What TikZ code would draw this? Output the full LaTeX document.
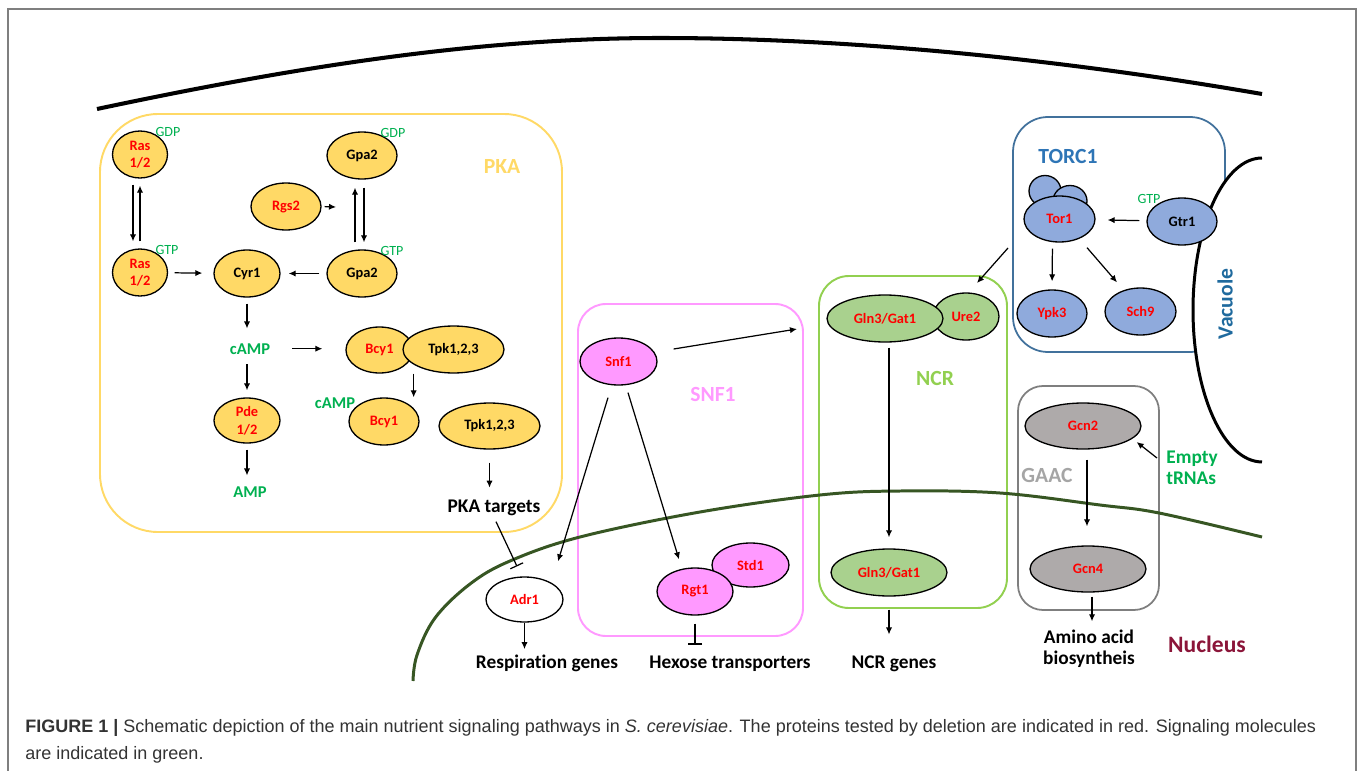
\documentclass[tikz,border=0pt]{standalone}
\usepackage{fontspec}
\setmainfont{Carlito}[Ligatures=NoCommon]
\newfontfamily\capfont{Liberation Sans}
\usetikzlibrary{shapes.geometric,arrows.meta}

\definecolor{pkayellow}{HTML}{FFD966}
\definecolor{snfpink}{HTML}{FF99FF}
\definecolor{ncrgreen}{HTML}{A9D18E}
\definecolor{ncrline}{HTML}{92D050}
\definecolor{torcblue}{HTML}{8FAADC}
\definecolor{torcline}{HTML}{41719C}
\definecolor{torctext}{HTML}{2E75B6}
\definecolor{gaacgray}{HTML}{AEAAAA}
\definecolor{gaacline}{HTML}{7F7F7F}
\definecolor{gaactext}{HTML}{A5A5A5}
\definecolor{molgreen}{HTML}{00B050}
\definecolor{nucgreen}{HTML}{375623}
\definecolor{nucred}{HTML}{8B1539}
\definecolor{vactext}{HTML}{1F6A9E}
\definecolor{capgray}{HTML}{333333}
\definecolor{framegray}{HTML}{7F7F7F}

\begin{document}
\begin{tikzpicture}[x=0.02cm, y=-0.02cm, >={Latex[length=4pt,width=3.6pt]}]
  \tikzstyle{prot}=[ellipse, draw, line width=0.75pt, inner sep=0pt, align=center, text=red, font=\fontsize{8.2}{10}\selectfont\bfseries, minimum width=1.4cm, minimum height=0.94cm]
  \tikzstyle{pka}=[prot, fill=pkayellow]
  \tikzstyle{snf}=[prot, fill=snfpink]
  \tikzstyle{ncr}=[prot, fill=ncrgreen]
  \tikzstyle{torc}=[prot, fill=torcblue]
  \tikzstyle{gaac}=[prot, fill=gaacgray]
  \tikzstyle{mol}=[inner sep=0pt, anchor=base, text=molgreen, font=\fontsize{9.4}{11}\selectfont\bfseries]
  \tikzstyle{gxp}=[inner sep=0pt, anchor=base, text=molgreen, font=\fontsize{8}{10}\selectfont]
  \tikzstyle{target}=[inner sep=0pt, anchor=base, align=center, font=\fontsize{11}{12}\selectfont\bfseries]
  \tikzstyle{boxlabel}=[inner sep=0pt, anchor=base, font=\fontsize{12.3}{14}\selectfont\bfseries]
  \tikzstyle{capt}=[inner sep=0pt, anchor=base west, text=capgray, font=\capfont\fontsize{10.25}{12}\selectfont]
  \tikzstyle{link}=[->, line width=0.7pt]
  \tikzstyle{block}=[-{Bar[width=8pt]}, line width=0.7pt]

  \useasboundingbox (0,0) rectangle (1357,771);
  \draw[framegray, line width=0.7pt] (8,9) rectangle (1356,800);

  \draw[pkayellow, line width=1.1pt, rounded corners=1.16cm] (100,114) rectangle (562,532);
  \draw[snfpink, line width=1.1pt, rounded corners=0.56cm] (578,304) rectangle (803,636);
  \draw[ncrline, line width=1.1pt, rounded corners=0.6cm] (819,276) rectangle (1007,608);
  \draw[torcline, line width=1pt, rounded corners=0.7cm] (1013,117) rectangle (1225,352);
  \draw[gaacline, line width=1pt, rounded corners=0.5cm] (1018,386) rectangle (1159,610);

  \draw[line width=2.3pt] (97,109) .. controls (300,66) and (480,38) .. (660,38)
    .. controls (880,38) and (1100,66) .. (1262,94);
  \draw[nucgreen, line width=1.7pt] plot[smooth, tension=0.6] coordinates {(413,681) (417,655)
    (435,618) (470,584) (510,561) (580,537) (700,512) (820,495) (900,491) (1000,493)
    (1100,505) (1159,513) (1262,537)};
  \fill[white] (1262,158) arc[start angle=90, end angle=270, x radius=1.38cm, y radius=3.04cm] -- cycle;
  \draw[line width=1.7pt] (1262,158) arc[start angle=90, end angle=270, x radius=1.38cm, y radius=3.04cm];

  \node[pka, minimum width=1.1cm] (RasGDP) at (140,154.5) {Ras\\1/2};
  \node[gxp] (RasGDPtag) at (168,136) {GDP};

  \node[pka, minimum width=1.1cm] (RasGTP) at (140,272.5) {Ras\\1/2};
  \node[gxp] (RasGTPtag) at (167,254) {GTP};

  \node[pka, text=black] (GpaGDP) at (362,155.5) {Gpa2};
  \node[gxp] (GpaGDPtag) at (393,137) {GDP};

  \node[pka] (Rgs2) at (286,206.5) {Rgs2};
  \coordinate (GpaCycle) at (336,207);

  \node[pka, text=black] (GpaGTP) at (362,273.5) {Gpa2};
  \node[gxp] (GpaGTPtag) at (392,255) {GTP};

  \node[pka, text=black, minimum width=1.32cm] (Cyr1) at (247,273.5) {Cyr1};

  \node[mol] (cAMP) at (250,354) {cAMP};

  \node[pka, minimum width=1.34cm, minimum height=0.92cm] (BcyC) at (379.5,350) {Bcy1};
  \node[pka, text=black, minimum width=2.02cm] (TpkC) at (453.5,349.5) {Tpk1,2,3};

  \node[pka, minimum width=1.32cm, minimum height=0.9cm] (Pde) at (247,420.5) {Pde\\1/2};
  \node[mol] (AMP) at (250,497) {AMP};

  \node[pka] (Bcy) at (384,421.5) {Bcy1};
  \node[mol] (cAMPfree) at (335,408) {cAMP};
  \node[pka, text=black, minimum width=2.02cm, minimum height=0.92cm] (Tpk) at (489.5,426) {Tpk1,2,3};

  \node[target] (PKAtargets) at (494,512) {PKA targets};
  \node[boxlabel, text=pkayellow] (PKA) at (502,173) {PKA};

  \node[prot, fill=white, minimum width=1.54cm, minimum height=0.9cm] (Adr1) at (524.5,599.5) {Adr1};
  \node[target] (Resp) at (547,668) {Respiration genes};

  \node[snf, minimum width=1.54cm] (Snf1) at (618.5,361.5) {Snf1};
  \node[snf, minimum width=1.54cm, minimum height=0.88cm] (Std1) at (750.5,565) {Std1};
  \node[snf, minimum width=1.52cm] (Rgt1) at (695,591.5) {Rgt1};
  \node[target] (Hexose) at (730,668) {Hexose transporters};
  \node[boxlabel, text=snfpink] (SNF) at (713,401) {SNF1};

  \node[ncr, minimum width=1.32cm] (Ure2) at (966,316.5) {Ure2};
  \node[ncr, minimum width=2.32cm] (GlnTop) at (885,318.5) {Gln3/Gat1};
  \node[ncr, minimum width=2.32cm] (GlnBot) at (889,572.5) {Gln3/Gat1};
  \node[target] (NCRgenes) at (894,668) {NCR genes};
  \node[boxlabel, text=ncrline] (NCR) at (935,385) {NCR};

  \node[torc, minimum width=0.64cm, minimum height=0.62cm] (TorSubA) at (1045,191) {};
  \node[torc, minimum width=0.68cm, minimum height=0.62cm] (TorSubB) at (1070,201) {};
  \node[torc, minimum width=1.42cm, minimum height=0.92cm] (Tor1) at (1059.5,219) {Tor1};
  \node[torc, text=black] (Gtr1) at (1182,221.5) {Gtr1};
  \node[gxp] (Gtr1tag) at (1149,203) {GTP};
  \node[torc] (Ypk3) at (1052,313.5) {Ypk3};
  \node[torc, minimum width=1.42cm] (Sch9) at (1140.5,311.5) {Sch9};
  \node[boxlabel, text=torctext] (TORC) at (1068,163) {TORC1};
  \node[boxlabel, text=vactext, anchor=center, rotate=90] (Vacuole) at (1225,304) {Vacuole};

  \node[gaac, minimum width=2.32cm, minimum height=0.92cm] (Gcn2) at (1083,426) {Gcn2};
  \node[gaac, minimum width=2.32cm, minimum height=0.92cm] (Gcn4) at (1088,569) {Gcn4};
  \node[target, anchor=center, align=left, text=molgreen] (Empty) at (1192,468) {Empty\\tRNAs};
  \node[target, anchor=center] (Amino) at (1089,649) {Amino acid\\biosyntheis};
  \node[boxlabel, text=gaactext] (GAAC) at (1047,482) {GAAC};
  \node[boxlabel, text=nucred, font=\fontsize{13.4}{15}\selectfont\bfseries] (Nucleus) at (1207,652) {Nucleus};

  \coordinate (NcrSide) at (797,329);
  \coordinate (TorcOut) at (1008,248);
  \coordinate (NcrTop) at (977,283);

  \draw[link, shorten <=0.12cm, shorten >=0.14cm] ([shift={(-7,0)}]RasGDP.south) -- ([shift={(-7,0)}]RasGTP.north);
  \draw[link, shorten <=0.14cm, shorten >=0.14cm] (RasGTP.north) -- (RasGDP.south);
  \draw[link, shorten <=0.14cm, shorten >=0.16cm] ([shift={(-7,0)}]GpaGTP.north) -- ([shift={(-7,0)}]GpaGDP.south);
  \draw[link, shorten <=0.16cm, shorten >=0.14cm] ([shift={(2,0)}]GpaGDP.south) -- ([shift={(2,0)}]GpaGTP.north);
  \draw[link, shorten <=0.06cm] (Rgs2.east) -- (GpaCycle);

  \draw[link, shorten <=0.13cm, shorten >=0.22cm] (RasGTP) -- (Cyr1);
  \draw[link, shorten <=0.14cm, shorten >=0.16cm] (GpaGTP) -- (Cyr1);
  \draw[link, shorten <=0.12cm, shorten >=0.29cm] (Cyr1.south) -- (Cyr1.south |- cAMP.north);
  \draw[link, shorten <=0.44cm, shorten >=0.46cm] (cAMP.east) -- (cAMP.east -| BcyC.west);
  \draw[link, shorten <=0.2cm, shorten >=0.14cm] (cAMP.south -| Pde.north) -- (Pde.north);
  \draw[link, shorten <=0.12cm, shorten >=0.21cm] (Pde.south) -- (Pde.south |- AMP.north);
  \draw[link] (BcyC.east |- BcyC.south) -- (BcyC.east |- Bcy.north);
  \draw[link, shorten <=0.26cm, shorten >=0.23cm] (Tpk.south) -- (Tpk.south |- PKAtargets.north);
  \draw[block] ([shift={(2,6)}]PKAtargets.south) -- ([shift={(-7.5,-10)}]Adr1.north);

  \draw[link, shorten >=0.1cm] (Adr1.south) -- (Adr1.south |- Resp.north);
  \draw[link] ([shift={(-10.5,12)}]Snf1.south) -- ([shift={(33.5,-15)}]Adr1.north);
  \draw[link] ([shift={(9.5,7)}]Snf1.south) -- ([shift={(-16,-8)}]Rgt1.north);
  \draw[link] ([shift={(16,-12.5)}]Snf1.east) -- (NcrSide);
  \draw[block, shorten <=0.16cm, shorten >=0.21cm] (Rgt1.south) -- (Rgt1.south |- Hexose.north);

  \draw[link, shorten <=0.1cm, shorten >=0.22cm] (GlnTop.south -| GlnBot.north) -- (GlnBot.north);
  \draw[link, shorten <=0.26cm, shorten >=0.41cm] (GlnBot.south) -- (GlnBot.south |- NCRgenes.north);

  \draw[link, shorten <=0.14cm, shorten >=0.24cm] (Gtr1) -- (Tor1);
  \draw[link, shorten <=0.12cm, shorten >=0.16cm] ([shift={(-7,0)}]Tor1.south) -- (Ypk3.north);
  \draw[link] ([shift={(27.5,5)}]Tor1.south) -- ([shift={(-23.5,-5)}]Sch9.north);
  \draw[link] (TorcOut) -- (NcrTop);

  \draw[link, shorten <=0.2cm, shorten >=0.38cm] ([shift={(4,0)}]Gcn2.south) -- ([shift={(-1,0)}]Gcn4.north);
  \draw[link, shorten <=0.08cm, shorten >=0.17cm] ([shift={(4,0)}]Gcn4.south) -- ([shift={(3,0)}]Amino.north);
  \draw[link] ([shift={(-9,-10)}]Empty.west) -- ([shift={(-5,16)}]Gcn2.east);

  \node[capt] (CaptionTop) at (25,732) {\textbf{FIGURE 1 |} Schematic depiction of the main nutrient signaling pathways in \textit{S. cerevisiae}. The proteins tested by deletion are indicated in red. Signaling molecules};
  \node[capt] (CaptionEnd) at (25,759) {are indicated in green.};
\end{tikzpicture}
\end{document}
